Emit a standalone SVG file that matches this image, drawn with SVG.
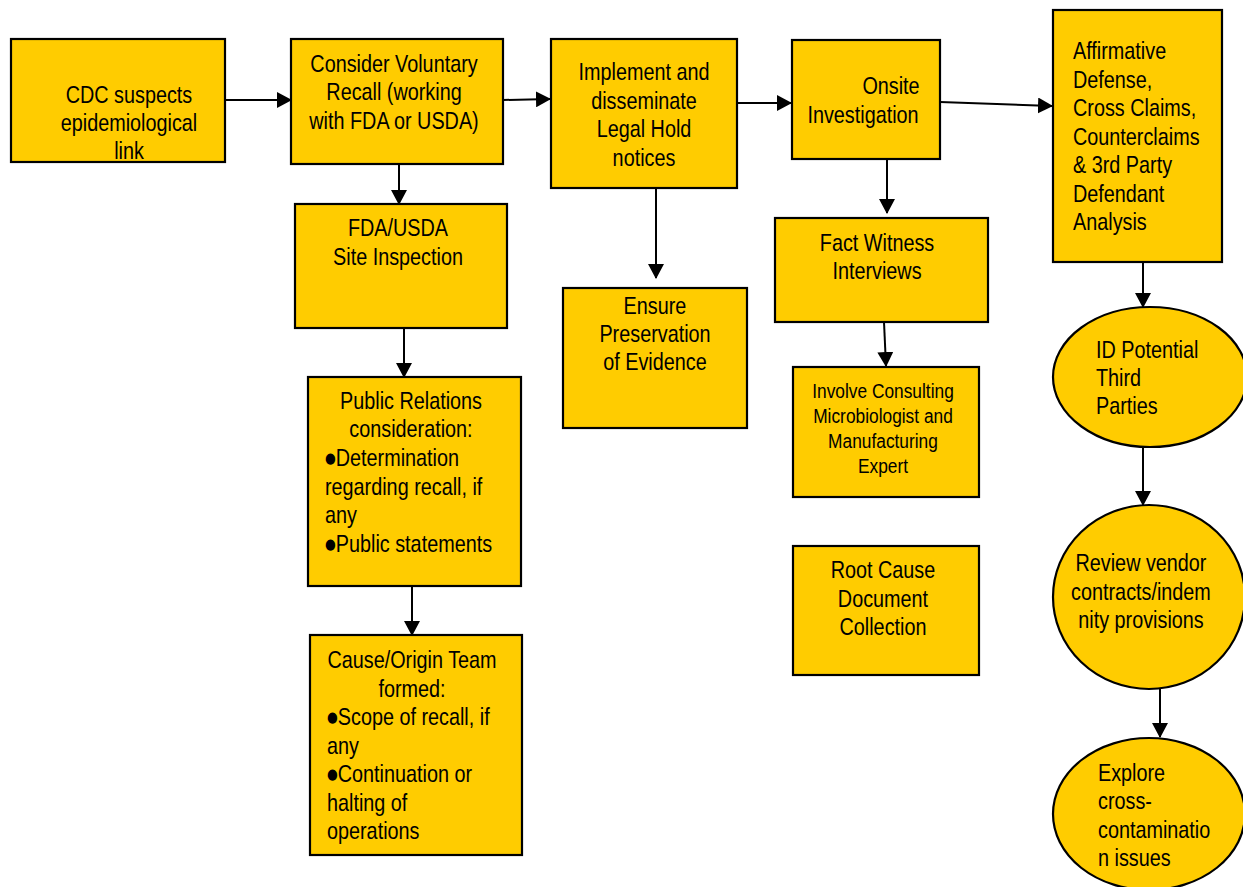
<svg xmlns="http://www.w3.org/2000/svg" width="1243" height="887" viewBox="0 0 1243 887">
<style>
.n{fill:#FFCC00;stroke:#000;stroke-width:2.2}
.t{font-family:"Liberation Sans",Arial,sans-serif;font-size:24px;fill:#000}
.c{text-anchor:middle}
.s{font-size:21px}
.b{font-family:"DejaVu Sans",sans-serif;font-size:15px}
.e{stroke:#000;stroke-width:2;fill:none;marker-end:url(#a)}
</style>
<defs>
<marker id="a" markerWidth="15" markerHeight="16" refX="14" refY="8" orient="auto" markerUnits="userSpaceOnUse">
<path d="M0,0 L15,8 L0,16 Z" fill="#000"/>
</marker>
</defs>
<rect width="1243" height="887" fill="#fff"/>
<g id="connectors">
<line class="e" x1="225" y1="100" x2="291" y2="100"/>
<line class="e" x1="503" y1="100" x2="550" y2="99"/>
<line class="e" x1="737" y1="103" x2="791" y2="103"/>
<line class="e" x1="940" y1="102" x2="1052" y2="106"/>
<line class="e" x1="399" y1="164" x2="399" y2="204"/>
<line class="e" x1="404" y1="328" x2="404" y2="377"/>
<line class="e" x1="412" y1="586" x2="412" y2="635"/>
<line class="e" x1="656" y1="188" x2="656" y2="278"/>
<line class="e" x1="887" y1="159" x2="887" y2="213"/>
<line class="e" x1="884" y1="322" x2="886" y2="366"/>
<line class="e" x1="1143" y1="262" x2="1143" y2="307"/>
<line class="e" x1="1143" y1="447" x2="1143" y2="505"/>
<line class="e" x1="1160" y1="689" x2="1160" y2="737"/>
</g>
<g id="cdc">
<rect class="n" x="11" y="39" width="214" height="123"/>
<text class="t c" transform="scale(0.825,1)"><tspan x="156.36" y="103">CDC suspects</tspan><tspan x="156.36" y="131">epidemiological</tspan><tspan x="156.36" y="159">link</tspan></text>
</g>
<g id="consider">
<rect class="n" x="291" y="39" width="212" height="125"/>
<text class="t c" transform="scale(0.825,1)"><tspan x="477.58" y="72">Consider Voluntary</tspan><tspan x="477.58" y="100">Recall (working</tspan><tspan x="477.58" y="129">with FDA or USDA)</tspan></text>
</g>
<g id="implement">
<rect class="n" x="551" y="39" width="186" height="149"/>
<text class="t c" transform="scale(0.825,1)"><tspan x="780.61" y="80">Implement and</tspan><tspan x="780.61" y="109">disseminate</tspan><tspan x="780.61" y="137">Legal Hold</tspan><tspan x="780.61" y="166">notices</tspan></text>
</g>
<g id="onsite">
<rect class="n" x="792" y="40" width="148" height="119"/>
<text class="t c" transform="scale(0.825,1)"><tspan x="1080" y="94">Onsite</tspan><tspan x="1046.06" y="123">Investigation</tspan></text>
</g>
<g id="affirmative">
<rect class="n" x="1053" y="10" width="169" height="252"/>
<text class="t" transform="scale(0.825,1)"><tspan x="1300.61" y="59">Affirmative</tspan><tspan x="1300.61" y="88">Defense,</tspan><tspan x="1300.61" y="116">Cross Claims,</tspan><tspan x="1300.61" y="145">Counterclaims</tspan><tspan x="1300.61" y="173">&amp; 3rd Party</tspan><tspan x="1300.61" y="202">Defendant</tspan><tspan x="1300.61" y="230">Analysis</tspan></text>
</g>
<g id="fda">
<rect class="n" x="295" y="204" width="212" height="124"/>
<text class="t c" transform="scale(0.825,1)"><tspan x="482.42" y="236">FDA/USDA</tspan><tspan x="482.42" y="265">Site Inspection</tspan></text>
</g>
<g id="pr">
<rect class="n" x="308" y="377" width="213" height="209"/>
<text class="t" transform="scale(0.825,1)"><tspan x="498.18" y="409" text-anchor="middle">Public Relations</tspan><tspan x="498.18" y="437" text-anchor="middle">consideration:</tspan><tspan x="393.94" y="463" class="b">●</tspan><tspan y="466">Determination</tspan><tspan x="393.94" y="495">regarding recall, if</tspan><tspan x="393.94" y="523">any</tspan><tspan x="393.94" y="549" class="b">●</tspan><tspan y="552">Public statements</tspan></text>
</g>
<g id="cause">
<rect class="n" x="310" y="635" width="212" height="220"/>
<text class="t" transform="scale(0.825,1)"><tspan x="499.39" y="668" text-anchor="middle">Cause/Origin Team</tspan><tspan x="499.39" y="697" text-anchor="middle">formed:</tspan><tspan x="396.36" y="722" class="b">●</tspan><tspan y="725">Scope of recall, if</tspan><tspan x="396.36" y="754">any</tspan><tspan x="396.36" y="779" class="b">●</tspan><tspan y="782">Continuation or</tspan><tspan x="396.36" y="811">halting of</tspan><tspan x="396.36" y="839">operations</tspan></text>
</g>
<g id="ensure">
<rect class="n" x="563" y="288" width="184" height="140"/>
<text class="t c" transform="scale(0.825,1)"><tspan x="793.94" y="314">Ensure</tspan><tspan x="793.94" y="342">Preservation</tspan><tspan x="793.94" y="370">of Evidence</tspan></text>
</g>
<g id="fact">
<rect class="n" x="775" y="218" width="213" height="104"/>
<text class="t c" transform="scale(0.825,1)"><tspan x="1063.03" y="251">Fact Witness</tspan><tspan x="1063.03" y="279">Interviews</tspan></text>
</g>
<g id="involve">
<rect class="n" x="793" y="367" width="186" height="130"/>
<text class="t c s" transform="scale(0.825,1)"><tspan x="1070.3" y="398">Involve Consulting</tspan><tspan x="1070.3" y="423">Microbiologist and</tspan><tspan x="1070.3" y="448">Manufacturing</tspan><tspan x="1070.3" y="473">Expert</tspan></text>
</g>
<g id="rootcause">
<rect class="n" x="793" y="546" width="186" height="129"/>
<text class="t c" transform="scale(0.825,1)"><tspan x="1070.3" y="578">Root Cause</tspan><tspan x="1070.3" y="607">Document</tspan><tspan x="1070.3" y="635">Collection</tspan></text>
</g>
<g id="idthird">
<ellipse class="n" cx="1150" cy="377" rx="97" ry="70"/>
<text class="t" transform="scale(0.825,1)"><tspan x="1328.48" y="358">ID Potential</tspan><tspan x="1328.48" y="386">Third</tspan><tspan x="1328.48" y="414">Parties</tspan></text>
</g>
<g id="review">
<ellipse class="n" cx="1149" cy="597" rx="96" ry="92"/>
<text class="t c" transform="scale(0.825,1)"><tspan x="1383.03" y="571">Review vendor</tspan><tspan x="1383.03" y="600">contracts/indem</tspan><tspan x="1383.03" y="628">nity provisions</tspan></text>
</g>
<g id="explore">
<ellipse class="n" cx="1149" cy="814" rx="96" ry="76"/>
<text class="t" transform="scale(0.825,1)"><tspan x="1330.91" y="781">Explore</tspan><tspan x="1330.91" y="809">cross-</tspan><tspan x="1330.91" y="838">contaminatio</tspan><tspan x="1330.91" y="866">n issues</tspan></text>
</g>
</svg>
